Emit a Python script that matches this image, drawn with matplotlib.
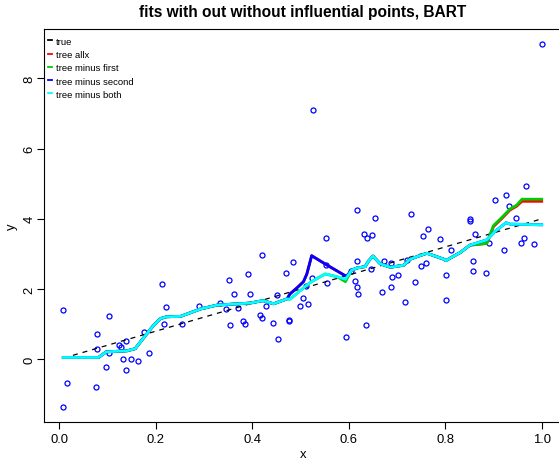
import numpy as np
import matplotlib
matplotlib.use("Agg")
import matplotlib.pyplot as plt

plt.rcParams['font.family'] = ['Liberation Sans', 'DejaVu Sans']

px = [0.008, 0.221, 0.102, 0.078, 0.176, 0.216, 0.077, 0.124, 0.127, 0.137,
      0.102, 0.131, 0.149, 0.163, 0.185, 0.097, 0.137, 0.015, 0.076, 0.008,
      0.213, 0.421, 0.484, 0.390, 0.469, 0.351, 0.362, 0.396, 0.451, 0.333,
      0.290, 0.345, 0.371, 0.428, 0.254, 0.353, 0.381, 0.384, 0.416, 0.420,
      0.442, 0.475, 0.477, 0.453, 0.616, 0.654, 0.729, 0.552, 0.632, 0.638,
      0.649, 0.553, 0.617, 0.673, 0.688, 0.720, 0.523, 0.555, 0.605, 0.645,
      0.612, 0.617, 0.619, 0.701, 0.690, 0.688, 0.668, 0.512, 0.506, 0.516,
      0.716, 0.738, 0.498, 0.635, 0.595, 0.968, 0.925, 0.904, 0.932, 0.946,
      0.851, 0.851, 0.764, 0.753, 0.789, 0.862, 0.963, 0.957, 0.983, 0.891,
      0.922, 0.812, 0.858, 0.858, 0.884, 0.761, 0.750, 0.801, 0.801, 0.526,
      1.001]
py = [1.39, 1.50, 1.24, 0.72, 0.77, 1.00, 0.29, 0.41, 0.35, 0.51,
      0.17, 0.01, 0.01, -0.04, 0.18, -0.23, -0.32, -0.68, -0.78, -1.37,
      2.14, 2.96, 2.76, 2.43, 2.46, 2.25, 1.86, 1.86, 1.83, 1.61,
      1.53, 1.43, 1.46, 1.53, 1.00, 0.98, 1.09, 1.00, 1.27, 1.18,
      1.04, 1.09, 1.12, 0.58, 4.26, 4.02, 4.15, 3.46, 3.57, 3.45,
      3.54, 2.69, 2.81, 2.80, 2.74, 2.82, 2.31, 2.16, 2.50, 2.56,
      2.22, 2.07, 1.86, 2.41, 2.33, 2.07, 1.91, 2.09, 1.75, 1.58,
      1.64, 2.21, 1.52, 0.97, 0.63, 4.93, 4.69, 4.53, 4.38, 4.02,
      4.00, 3.93, 3.72, 3.51, 3.42, 3.56, 3.46, 3.31, 3.29, 3.31,
      3.11, 3.11, 2.81, 2.50, 2.45, 2.74, 2.67, 2.40, 1.69, 7.09,
      8.99]

# fitted curves, pieced together from segments
start_x = [0.008, 0.081, 0.097, 0.140, 0.157, 0.178, 0.196, 0.210, 0.222, 0.251,
           0.292, 0.326, 0.347, 0.395, 0.422, 0.444, 0.472]
start_y = [0.05, 0.05, 0.21, 0.24, 0.30, 0.67, 0.98, 1.16, 1.21, 1.22,
           1.43, 1.54, 1.56, 1.60, 1.67, 1.58, 1.72]

peak_x = [0.478, 0.493, 0.506, 0.513, 0.523, 0.554, 0.595]
peak_y = [1.86, 2.04, 2.21, 2.43, 2.95, 2.69, 2.36]
nopeak_x = [0.478, 0.499, 0.519, 0.551, 0.576, 0.593]
nopeak_green = [1.71, 1.95, 2.18, 2.43, 2.35, 2.21]
nopeak_cyan = [1.71, 1.95, 2.18, 2.43, 2.35, 2.28]

mid_x = [0.606, 0.617, 0.634, 0.641, 0.650, 0.665, 0.686, 0.714, 0.727, 0.747,
         0.762, 0.797, 0.801, 0.831, 0.851]
mid_y = [2.54, 2.60, 2.64, 2.80, 2.94, 2.72, 2.62, 2.68, 2.85, 2.95,
         3.02, 2.85, 2.81, 3.04, 3.25]

flat_x = [0.886, 0.903, 0.926, 0.934, 1.0]
flat_y = [3.40, 3.64, 3.89, 3.85, 3.83]
rise_x = [0.886, 0.900, 0.918, 0.934, 0.948, 0.959, 1.0]
rise_green = [3.30, 3.81, 4.05, 4.28, 4.39, 4.56, 4.56]
rise_red = [3.30, 3.78, 4.02, 4.25, 4.36, 4.50, 4.50]

labels = ["true", "tree allx", "tree minus first", "tree minus second", "tree minus both"]
colors = ["black", "red", "#00cd00", "blue", "cyan"]

fx_red = start_x + peak_x + mid_x + rise_x
fy_red = start_y + peak_y + mid_y + rise_red
fx_green = start_x + nopeak_x + mid_x + rise_x
fy_green = start_y + nopeak_green + mid_y + rise_green
fx_blue = start_x + peak_x + mid_x + flat_x
fy_blue = start_y + peak_y + mid_y + flat_y
fx_cyan = start_x + nopeak_x + mid_x + flat_x
fy_cyan = start_y + nopeak_cyan + mid_y + flat_y

W, H = 559, 460
fig = plt.figure(figsize=(W / 100, H / 100), dpi=100)
ax = fig.add_axes([44 / W, 1 - 422.7 / H, (561.5 - 44) / W, (422.7 - 30) / H])
ax.set_xlim(-0.032, 1.041)
ax.set_ylim(-1.78, 9.41)

ax.plot(px, py, 'o', mfc='none', mec='blue', ms=3.6, mew=0.9, zorder=2)

xs = np.sort(px)
ax.plot(xs, 4 * xs, color='black', lw=0.9, dashes=(4, 4), label=labels[0], zorder=3)
ax.plot(fx_red, fy_red, color=colors[1], lw=2, label=labels[1], zorder=3)
ax.plot(fx_green, fy_green, color=colors[2], lw=2, label=labels[2], zorder=3)
ax.plot(fx_blue, fy_blue, color=colors[3], lw=2, label=labels[3], zorder=3)
ax.plot(fx_cyan, fy_cyan, color=colors[4], lw=2, label=labels[4], zorder=3)

ax.set_xticks([0, 0.2, 0.4, 0.6, 0.8, 1.0])
ax.set_xticklabels(["0.0", "0.2", "0.4", "0.6", "0.8", "1.0"])
ax.set_yticks([0, 2, 4, 6, 8])
ax.tick_params(direction='out', length=5, width=0.8, labelsize=9.4, pad=3)
ax.tick_params(axis='y', labelrotation=90, pad=1)
for t in ax.get_yticklabels():
    t.set_va('center')
for s in ax.spines.values():
    s.set_linewidth(0.8)

ax.set_xlabel("x", fontsize=9.4, labelpad=2)
ax.set_ylabel("y", fontsize=9.4, labelpad=4)
ax.set_title("fits with out without influential points, BART", fontsize=11.2,
             fontweight='bold', pad=9)

handles, labs = ax.get_legend_handles_labels()
leg = ax.legend(handles, labs, loc='upper left', bbox_to_anchor=(0.004, 0.985),
                frameon=False, fontsize=6.8, handlelength=0.45, handletextpad=0.35,
                labelspacing=0.45, borderaxespad=0, borderpad=0.2)
for line in leg.get_lines():
    line.set_linestyle('-')
    line.set_linewidth(1.3)

fig.savefig("out.png", dpi=100)
